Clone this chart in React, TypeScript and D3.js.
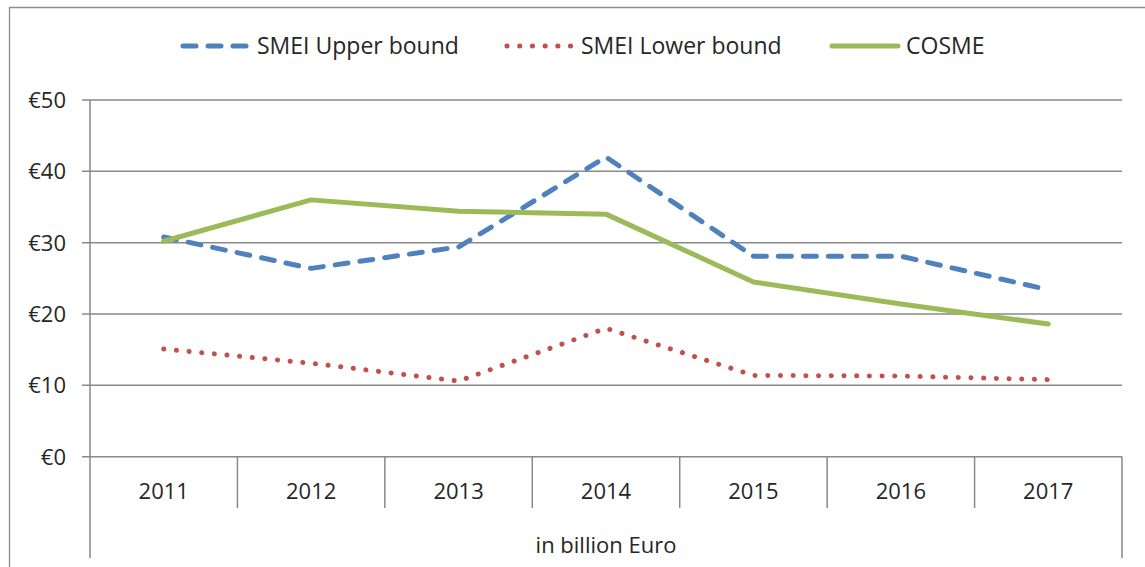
import React, { useEffect, useRef } from 'react';
import * as d3 from 'd3';

const years = ['2011', '2012', '2013', '2014', '2015', '2016', '2017'];
const upperBound = [30.8, 26.4, 29.4, 42.0, 28.1, 28.1, 23.4];
const lowerBound = [15.1, 13.1, 10.6, 18.0, 11.4, 11.3, 10.8];
const cosme = [30.2, 36.0, 34.4, 34.0, 24.5, 21.4, 18.6];
const yTicks = [0, 10, 20, 30, 40, 50];

const seriesList = [
    { name: 'SMEI Upper bound', values: upperBound, color: '#4F81BD', dash: '13,12', width: 5 },
    { name: 'SMEI Lower bound', values: lowerBound, color: '#C0504D', dash: '0.1,12.6', width: 5 },
    { name: 'COSME', values: cosme, color: '#9BBB59', dash: null, width: 5 },
];

const width = 1145;
const height = 567;
const margin = { top: 100, right: 23, bottom: 110, left: 90 };
const fontFamily = '"Open Sans", sans-serif';
const fontSize = '22px';

const App: React.FC = () => {
    const ref = useRef<SVGSVGElement>(null);

    useEffect(() => {
        const svg = d3.select(ref.current);
        svg.selectAll('*').remove();
        svg.attr('width', width).attr('height', height);

        const plotBottom = height - margin.bottom - 0.3;
        const plotRight = width - margin.right;

        const x = d3.scaleBand().domain(years).range([margin.left, plotRight]);
        const y = d3.scaleLinear().domain([0, 50]).range([plotBottom, margin.top]);

        // outer chart border
        svg.append('path')
            .attr('d', `M9.5,${height} V7.5 H${width}`)
            .attr('fill', 'none')
            .attr('stroke', '#8c8c8c')
            .attr('stroke-width', 1.3);

        // horizontal gridlines with little ticks to the left
        svg.append('g')
            .selectAll('line')
            .data(yTicks)
            .join('line')
            .attr('x1', margin.left - 8)
            .attr('x2', plotRight)
            .attr('y1', (d) => y(d))
            .attr('y2', (d) => y(d))
            .attr('stroke', '#898989')
            .attr('stroke-width', 1.5);

        // y-axis line
        svg.append('line')
            .attr('x1', margin.left)
            .attr('x2', margin.left)
            .attr('y1', margin.top)
            .attr('y2', 558)
            .attr('stroke', '#898989')
            .attr('stroke-width', 1.5);

        // right side line of the category table
        svg.append('line')
            .attr('x1', plotRight)
            .attr('x2', plotRight)
            .attr('y1', plotBottom)
            .attr('y2', 558)
            .attr('stroke', '#898989')
            .attr('stroke-width', 1.5);

        // separators between the year cells
        svg.append('g')
            .selectAll('line')
            .data(years.slice(1))
            .join('line')
            .attr('x1', (d) => x(d) ?? 0)
            .attr('x2', (d) => x(d) ?? 0)
            .attr('y1', plotBottom)
            .attr('y2', 508)
            .attr('stroke', '#898989')
            .attr('stroke-width', 1.5);

        // y tick labels
        svg.append('g')
            .selectAll('text')
            .data(yTicks)
            .join('text')
            .attr('x', 66)
            .attr('y', (d) => y(d) + 8)
            .attr('text-anchor', 'end')
            .style('font-family', fontFamily)
            .style('font-size', fontSize)
            .style('fill', '#262626')
            .text((d) => `€${d}`);

        // year labels
        svg.append('g')
            .selectAll('text')
            .data(years)
            .join('text')
            .attr('x', (d) => (x(d) ?? 0) + x.bandwidth() / 2)
            .attr('y', 499)
            .attr('text-anchor', 'middle')
            .style('font-family', fontFamily)
            .style('font-size', fontSize)
            .style('fill', '#262626')
            .text((d) => d);

        svg.append('text')
            .attr('x', (margin.left + plotRight) / 2)
            .attr('y', 553)
            .attr('text-anchor', 'middle')
            .style('font-family', fontFamily)
            .style('font-size', fontSize)
            .style('fill', '#262626')
            .text('in billion Euro');

        const line = d3
            .line<number>()
            .x((_, i) => (x(years[i]) ?? 0) + x.bandwidth() / 2)
            .y((d) => y(d));

        seriesList.forEach((s) => {
            const path = svg
                .append('path')
                .datum(s.values)
                .attr('d', line)
                .attr('fill', 'none')
                .attr('stroke', s.color)
                .attr('stroke-width', s.width)
                .attr('stroke-linecap', 'round')
                .attr('stroke-linejoin', 'round');
            if (s.dash) path.attr('stroke-dasharray', s.dash);
        });

        // legend
        const legendX = [181, 505, 830];
        const legend = svg
            .append('g')
            .selectAll('g')
            .data(seriesList)
            .join('g')
            .attr('transform', (_, i) => `translate(${legendX[i]},46)`);

        legend
            .append('line')
            .attr('x1', 2)
            .attr('x2', 68)
            .attr('y1', 0)
            .attr('y2', 0)
            .attr('stroke', (d) => d.color)
            .attr('stroke-width', (d) => d.width)
            .attr('stroke-linecap', 'round')
            .attr('stroke-dasharray', (d) => d.dash ?? null);

        legend
            .append('text')
            .attr('x', 76)
            .attr('y', 8)
            .style('font-family', fontFamily)
            .style('font-size', '23px')
            .style('fill', '#262626')
            .text((d) => d.name);
    }, []);

    return (
        <svg
            ref={ref}
            style={{ position: 'absolute', left: 0, top: 0, background: '#fff' }}
        ></svg>
    );
};

export default App;
